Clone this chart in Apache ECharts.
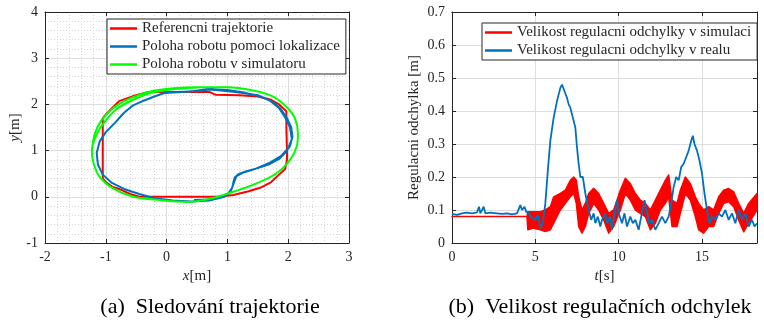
<!DOCTYPE html>
<html>
<head>
<meta charset="utf-8">
<script src="https://cdn.jsdelivr.net/npm/echarts@6/dist/echarts.min.js"></script>
<style>
  html, body { margin: 0; padding: 0; background: #fff; }
  #main { width: 764px; height: 328px; }
</style>
</head>
<body>
<div id="main"></div>
<script>
// (a) trajectory data, x/y in metres
var refX = [-1.05, -1.05, -1.0, -0.85, -0.78, -0.55, -0.3, 0.2, 0.7, 0.8, 1.2, 1.5, 1.72, 1.85, 1.97, 1.97, 1.98, 1.98, 1.95, 1.85, 1.72, 1.55, 1.35, 1.1, 0.85, 0.3, -0.45, -0.6, -0.78, -0.9, -1.0, -1.05];
var refY = [0.4, 1.7, 1.78, 1.98, 2.07, 2.18, 2.27, 2.27, 2.27, 2.21, 2.2, 2.17, 2.1, 2.0, 1.85, 1.5, 1.0, 0.8, 0.6, 0.48, 0.32, 0.2, 0.12, 0.04, 0.0, 0.0, 0.0, 0.06, 0.17, 0.22, 0.32, 0.4];

var locX = [0.45, 0.7, 0.9, 1.02, 1.08, 1.1, 1.12, 1.18, 1.3, 1.5, 1.7, 1.85, 1.95, 2.03, 2.07, 2.05, 1.98, 1.88, 1.75, 1.55, 1.3, 1.0, 0.75, 0.5, 0.2, -0.05, -0.2, -0.38, -0.55, -0.7, -0.85, -1.0, -1.1, -1.15, -1.13, -1.05, -0.9, -0.7, -0.45, -0.2, 0.1, 0.4, 0.7, 0.95, 1.05, 1.1, 1.15, 1.25, 1.45, 1.7, 1.88, 2.0, 2.06, 2.03, 1.95, 1.85, 1.7, 1.5, 1.2, 0.9, 0.65, 0.4, 0.1];
var locY = [-0.07, -0.06, 0.0, 0.08, 0.2, 0.32, 0.42, 0.49, 0.55, 0.62, 0.71, 0.82, 0.95, 1.1, 1.3, 1.5, 1.7, 1.9, 2.05, 2.17, 2.25, 2.31, 2.33, 2.29, 2.27, 2.24, 2.17, 2.08, 1.98, 1.82, 1.6, 1.4, 1.2, 0.95, 0.7, 0.48, 0.3, 0.17, 0.06, -0.03, -0.08, -0.1, -0.08, 0.0, 0.1, 0.28, 0.45, 0.52, 0.6, 0.74, 0.88, 1.05, 1.25, 1.5, 1.72, 1.92, 2.08, 2.2, 2.26, 2.3, 2.33, 2.28, 2.26];

var simX = [-1.23, -1.18, -1.07, -0.88, -0.6, -0.27, 0.11, 0.55, 0.99, 1.42, 1.75, 1.97, 2.11, 2.16, 2.14, 2.03, 1.81, 1.48, 1.1, 0.71, 0.33, -0.11, -0.55, -0.88, -1.1, -1.2, -1.23, -1.15, -1.02, -0.82, -0.55, -0.25, 0.1, 0.5];
var simY = [1.0, 1.37, 1.66, 1.92, 2.13, 2.28, 2.35, 2.37, 2.37, 2.3, 2.17, 1.95, 1.7, 1.37, 1.09, 0.8, 0.51, 0.29, 0.11, -0.04, -0.11, -0.07, 0.0, 0.18, 0.43, 0.72, 1.0, 1.35, 1.62, 1.9, 2.1, 2.25, 2.33, 2.36];

// (b) control error over time
var realT = [0, 0.3, 0.6, 0.9, 1.2, 1.5, 1.62, 1.7, 1.9, 2.0, 2.3, 2.7, 3.0, 3.3, 3.6, 3.9, 4.1, 4.2, 4.35, 4.45, 4.6, 4.8, 5.0, 5.15, 5.3, 5.45, 5.6, 5.75, 5.9, 6.1, 6.3, 6.5, 6.6, 6.75, 6.9, 7.0, 7.1, 7.25, 7.4, 7.5, 7.6, 7.7, 7.85, 8.0, 8.2, 8.35, 8.5, 8.6, 8.75, 8.9, 9.0, 9.2, 9.3, 9.5, 9.6, 9.75, 9.9, 10.0, 10.2, 10.35, 10.5, 10.7, 10.85, 11.0, 11.2, 11.35, 11.55, 11.7, 11.85, 12.0, 12.2, 12.4, 12.6, 12.8, 13.0, 13.15, 13.3, 13.45, 13.6, 13.75, 13.9, 14.05, 14.2, 14.35, 14.45, 14.55, 14.7, 14.85, 15.0, 15.15, 15.3, 15.45, 15.6, 15.8, 16.0, 16.2, 16.4, 16.6, 16.8, 17.0, 17.2, 17.4, 17.6, 17.8, 18.0, 18.15, 18.3];
var realV = [0.088, 0.085, 0.09, 0.092, 0.09, 0.093, 0.11, 0.09, 0.11, 0.09, 0.092, 0.09, 0.088, 0.09, 0.087, 0.09, 0.115, 0.1, 0.11, 0.095, 0.09, 0.075, 0.07, 0.085, 0.045, 0.06, 0.12, 0.22, 0.31, 0.38, 0.43, 0.47, 0.48, 0.46, 0.44, 0.42, 0.41, 0.38, 0.35, 0.29, 0.24, 0.2, 0.2, 0.15, 0.1, 0.07, 0.09, 0.06, 0.08, 0.05, 0.07, 0.09, 0.06, 0.08, 0.04, 0.09, 0.13, 0.09, 0.06, 0.09, 0.05, 0.08, 0.06, 0.07, 0.04, 0.08, 0.13, 0.09, 0.06, 0.07, 0.04, 0.06, 0.08, 0.06, 0.08, 0.12, 0.17, 0.2, 0.19, 0.23, 0.24, 0.26, 0.28, 0.31, 0.325, 0.3, 0.28, 0.25, 0.21, 0.15, 0.1, 0.06, 0.08, 0.07, 0.09, 0.08, 0.1, 0.07, 0.09, 0.06, 0.1, 0.07, 0.09, 0.05, 0.07, 0.05, 0.06];

// simulated error oscillates fast: lower / upper edge of the red band
var simT  = [0, 4.5, 4.55, 4.9, 5.3, 5.6, 5.9, 6.1, 6.5, 6.8, 7.1, 7.3, 7.46, 7.6, 7.8, 8.0, 8.2, 8.5, 8.8, 9.1, 9.4, 9.7, 10.1, 10.4, 10.7, 11.0, 11.3, 11.6, 11.9, 12.2, 12.5, 12.8, 13.0, 13.2, 13.5, 13.7, 14.0, 14.3, 14.6, 14.8, 15.1, 15.4, 15.7, 16.0, 16.3, 16.6, 16.9, 17.2, 17.5, 17.8, 18.3];
var simLo = [0.08, 0.08, 0.04, 0.045, 0.04, 0.035, 0.04, 0.06, 0.1, 0.12, 0.14, 0.15, 0.12, 0.05, 0.03, 0.05, 0.09, 0.12, 0.1, 0.07, 0.03, 0.05, 0.1, 0.15, 0.13, 0.1, 0.09, 0.08, 0.04, 0.06, 0.1, 0.12, 0.14, 0.05, 0.05, 0.09, 0.15, 0.13, 0.08, 0.04, 0.03, 0.05, 0.05, 0.09, 0.12, 0.125, 0.11, 0.07, 0.034, 0.06, 0.1];
var simHi = [0.08, 0.08, 0.095, 0.095, 0.095, 0.1, 0.11, 0.14, 0.15, 0.16, 0.19, 0.2, 0.19, 0.14, 0.1, 0.12, 0.15, 0.166, 0.15, 0.12, 0.09, 0.1, 0.16, 0.196, 0.18, 0.15, 0.13, 0.12, 0.1, 0.13, 0.16, 0.19, 0.206, 0.13, 0.12, 0.16, 0.2, 0.18, 0.14, 0.12, 0.1, 0.11, 0.1, 0.14, 0.16, 0.165, 0.155, 0.12, 0.09, 0.12, 0.15];

var RED = '#ff0000', BLUE = '#0072bd', GREEN = '#00ff00', AX = '#262626';
var FONT = 'Liberation Serif';

function zip(a, b) { return a.map(function (v, i) { return [v, b[i]]; }); }

function mainAxis(grid, pos, min, max, step, nm, gap, minor) {
  var lastOnTick = Math.abs(max / step - Math.round(max / step)) < 1e-9;
  return {
    type: 'value', gridIndex: grid, position: pos, min: min, max: max, interval: step,
    name: nm, nameLocation: 'middle', nameGap: gap,
    nameTextStyle: { fontFamily: FONT, fontSize: 15, color: AX,
      rich: { i: { fontFamily: FONT, fontSize: 15, fontStyle: 'italic', color: AX } } },
    axisLine: { show: true, onZero: false, lineStyle: { color: AX, width: 1 } },
    axisTick: { show: true, inside: true, length: 4, lineStyle: { color: AX } },
    axisLabel: { fontFamily: FONT, fontSize: 14, color: AX, margin: 7, showMaxLabel: lastOnTick },
    splitLine: { show: true, lineStyle: { color: '#dedede', width: 1 } },
    minorTick: { show: !!minor, splitNumber: 5, length: 0 },
    minorSplitLine: { show: !!minor, lineStyle: { color: '#d6d6d6', type: [1, 2], width: 1 } }
  };
}
function sideAxis(grid, pos, min, max, step) {
  return {
    type: 'value', gridIndex: grid, position: pos, min: min, max: max, interval: step,
    axisLine: { show: true, onZero: false, lineStyle: { color: AX, width: 1 } },
    axisTick: { show: true, inside: true, length: 4, lineStyle: { color: AX } },
    axisLabel: { show: false }, splitLine: { show: false }
  };
}

var myChart = echarts.init(document.getElementById('main'));

var option = {
  animation: false,
  backgroundColor: '#fff',
  grid: [
    { left: 45, top: 12, width: 304, height: 231 },
    { left: 452, top: 12, width: 305, height: 231 }
  ],
  xAxis: [
    mainAxis(0, 'bottom', -2, 3, 1, '{i|x}[m]', 24, true),
    sideAxis(0, 'top', -2, 3, 1),
    mainAxis(1, 'bottom', 0, 18.3, 5, '{i|t}[s]', 24, false),
    sideAxis(1, 'top', 0, 18.3, 5)
  ],
  yAxis: [
    mainAxis(0, 'left', -1, 4, 1, '{i|y}[m]', 19, true),
    sideAxis(0, 'right', -1, 4, 1),
    mainAxis(1, 'left', 0, 0.7, 0.1, 'Regulacni odchylka [m]', 30, false),
    sideAxis(1, 'right', 0, 0.7, 0.1)
  ],
  legend: [
    {
      data: ['Referencni trajektorie', 'Poloha robotu pomoci lokalizace', 'Poloha robotu v simulatoru'],
      orient: 'vertical', left: 107, top: 19, itemGap: 3, padding: [2, 6, 2, 3],
      icon: 'rect', itemWidth: 27, itemHeight: 2.5,
      backgroundColor: '#fff', borderColor: AX, borderWidth: 1, borderRadius: 0,
      textStyle: { fontFamily: FONT, fontSize: 15, color: AX }
    },
    {
      data: ['Velikost regulacni odchylky v simulaci', 'Velikost regulacni odchylky v realu'],
      orient: 'vertical', left: 482, top: 23, itemGap: 3, padding: [2, 6, 2, 3],
      icon: 'rect', itemWidth: 27, itemHeight: 2.5,
      backgroundColor: '#fff', borderColor: AX, borderWidth: 1, borderRadius: 0,
      textStyle: { fontFamily: FONT, fontSize: 15, color: AX }
    }
  ],
  graphic: [
    { type: 'text', x: 210, y: 307, style: { text: '(a)  Sledování trajektorie', fontFamily: FONT, fontSize: 22, fill: '#000', align: 'center', verticalAlign: 'middle' } },
    { type: 'text', x: 600, y: 307, style: { text: '(b)  Velikost regulačních odchylek', fontFamily: FONT, fontSize: 22, fill: '#000', align: 'center', verticalAlign: 'middle' } }
  ],
  series: [
    { name: 'Referencni trajektorie', type: 'line', xAxisIndex: 0, yAxisIndex: 0, data: zip(refX, refY),
      showSymbol: false, symbol: 'none', color: RED, lineStyle: { color: RED, width: 2 } },
    { name: 'Poloha robotu pomoci lokalizace', type: 'line', xAxisIndex: 0, yAxisIndex: 0, data: zip(locX, locY),
      showSymbol: false, symbol: 'none', color: BLUE, lineStyle: { color: BLUE, width: 2 } },
    { name: 'Poloha robotu v simulatoru', type: 'line', xAxisIndex: 0, yAxisIndex: 0, data: zip(simX, simY),
      showSymbol: false, symbol: 'none', color: GREEN, smooth: 0.3, lineStyle: { color: GREEN, width: 2 } },

    // red band between simLo and simHi, placed through the axis scales
    { name: 'Velikost regulacni odchylky v simulaci', type: 'custom', xAxisIndex: 2, yAxisIndex: 2,
      data: [[0, 0.08]], itemStyle: { color: RED }, silent: true,
      renderItem: function (params, api) {
        var pts = [];
        for (var i = 0; i < simT.length; i++) pts.push(api.coord([simT[i], simHi[i]]));
        for (var j = simT.length - 1; j >= 0; j--) pts.push(api.coord([simT[j], simLo[j]]));
        return { type: 'polygon', shape: { points: pts },
          style: { fill: RED, stroke: RED, lineWidth: 1.5, lineJoin: 'round' } };
      } },
    { name: 'Velikost regulacni odchylky v realu', type: 'line', xAxisIndex: 2, yAxisIndex: 2, data: zip(realT, realV),
      showSymbol: false, symbol: 'none', color: BLUE, lineStyle: { color: BLUE, width: 1.8 } }
  ]
};

myChart.setOption(option);
</script>
</body>
</html>
